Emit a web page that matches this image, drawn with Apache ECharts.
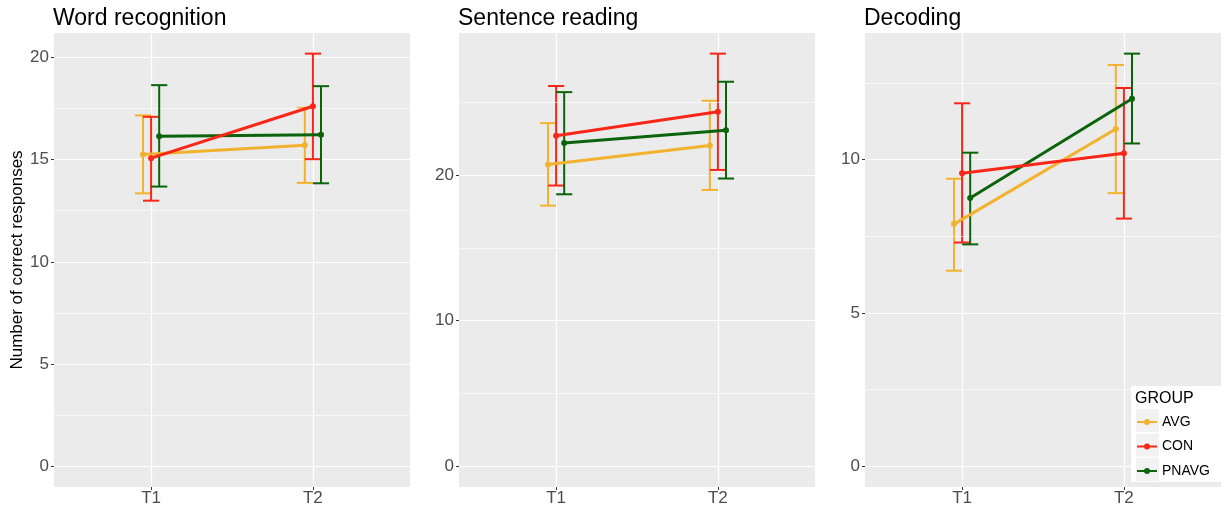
<!DOCTYPE html>
<html><head><meta charset="utf-8">
<script src="https://cdn.jsdelivr.net/npm/echarts@6/dist/echarts.min.js"></script>
<style>html,body{margin:0;padding:0;background:#fff}#c{width:1228px;height:508px}</style>
</head><body><div id="c"></div>
<script>
// ---- data ----
const panelTitles = ['Word recognition', 'Sentence reading', 'Decoding'];
const groups = ['AVG', 'CON', 'PNAVG'];
const times = ['T1', 'T2'];
const groupColors = ['#F2B22E', '#FA2618', '#0B640B'];

// rows: AVG, CON, PNAVG ; columns: T1, T2
const wordMean = [[15.25, 15.70], [15.07, 17.61], [16.14, 16.21]];
const wordLow  = [[13.35, 13.86], [12.99, 15.02], [13.68, 13.84]];
const wordHigh = [[17.16, 17.53], [17.09, 20.18], [18.64, 18.59]];

const sentMean = [[20.71, 22.02], [22.68, 24.33], [22.18, 23.07]];
const sentLow  = [[17.89, 18.97], [19.27, 20.34], [18.67, 19.75]];
const sentHigh = [[23.55, 25.09], [26.10, 28.32], [25.68, 26.39]];

const decMean = [[7.90, 11.00], [9.56, 10.21], [8.75, 11.99]];
const decLow  = [[6.38, 8.91], [7.30, 8.08], [7.24, 10.53]];
const decHigh = [[9.38, 13.09], [11.84, 12.34], [10.23, 13.46]];

const wordBreaks = [0, 5, 10, 15, 20];
const sentBreaks = [0, 10, 20];
const decBreaks = [0, 5, 10];
const timeBreaks = [1, 2];

// ---- layout ----
const panelData = [
  {mean: wordMean, low: wordLow, high: wordHigh, breaks: wordBreaks},
  {mean: sentMean, low: sentLow, high: sentHigh, breaks: sentBreaks},
  {mean: decMean, low: decLow, high: decHigh, breaks: decBreaks}
];
const gridLefts = [54, 459, 865];
const gridWidth = 356;
const dodge = [-0.05, 0, 0.05];
const capHalf = 0.05;

const grids = [], xAxes = [], yAxes = [], series = [], titles = [];

function errRender(params, api) {
  const x = api.value(0), lo = api.value(1), hi = api.value(2);
  const pT = api.coord([x, hi]), pB = api.coord([x, lo]);
  const l = api.coord([x - capHalf, hi])[0], r = api.coord([x + capHalf, hi])[0];
  const style = {stroke: api.visual('color'), lineWidth: 2};
  return {type: 'group', children: [
    {type: 'line', shape: {x1: pT[0], y1: pT[1], x2: pB[0], y2: pB[1]}, style: style},
    {type: 'line', shape: {x1: l, y1: pT[1], x2: r, y2: pT[1]}, style: style},
    {type: 'line', shape: {x1: l, y1: pB[1], x2: r, y2: pB[1]}, style: style}
  ]};
}

panelData.forEach((p, i) => {
  const allLow = [].concat(...p.low), allHigh = [].concat(...p.high);
  const lo = Math.min(0, ...allLow), hi = Math.max(...allHigh);
  const pad = (hi - lo) * 0.05;
  const step = p.breaks[1] - p.breaks[0];
  const minor = p.breaks.slice(0, -1).map((b, k) => (b + p.breaks[k + 1]) / 2)
    .concat([p.breaks[p.breaks.length - 1] + step / 2]).filter(v => v < hi + pad);
  grids.push({left: gridLefts[i], width: gridWidth, top: 33, bottom: 21, show: true,
    backgroundColor: '#EBEBEB', borderWidth: 0});
  titles.push({text: panelTitles[i], left: gridLefts[i] - 1, top: 7, padding: 0,
    textStyle: {fontSize: 23, fontWeight: 'normal', color: '#000', fontFamily: 'Liberation Sans'}});
  xAxes.push({gridIndex: i, type: 'value', min: 0.4, max: 2.6, splitNumber: 2, position: 'bottom',
    axisLine: {show: false, onZero: false},
    axisTick: {show: true, length: 3, customValues: timeBreaks, lineStyle: {color: '#333', width: 1}},
    axisLabel: {fontSize: 17, color: '#4D4D4D', margin: 3, customValues: timeBreaks,
      formatter: v => (Math.abs(v - Math.round(v)) < 1e-6 && v >= 1 && v <= 2) ? times[Math.round(v) - 1] : ''},
    splitLine: {show: true, lineStyle: {color: '#FFFFFF', width: 1.2}}
  });
  yAxes.push({gridIndex: i, type: 'value', min: lo - pad, max: hi + pad, splitNumber: i === 0 ? 4 : 3,
    axisLine: {show: false, onZero: false},
    axisTick: {show: true, length: 3, customValues: p.breaks, lineStyle: {color: '#333', width: 1}},
    axisLabel: {fontSize: 17, color: '#4D4D4D', margin: 5, customValues: p.breaks,
      formatter: v => p.breaks.some(b => Math.abs(b - v) < 1e-6) ? String(Math.round(v)) : ''},
    splitLine: {show: true, lineStyle: {color: '#FFFFFF', width: 1.2}},
    name: i === 0 ? 'Number of correct responses' : '',
    nameLocation: 'middle', nameGap: 27, nameRotate: 90,
    nameTextStyle: {fontSize: 17, color: '#000'}
  });
  // minor grid lines
  series.push({type: 'line', name: '_minor' + i, xAxisIndex: i, yAxisIndex: i, data: [], silent: true, z: 1,
    markLine: {silent: true, symbol: ['none', 'none'], label: {show: false}, animation: false,
      lineStyle: {color: '#FFFFFF', width: 0.6, type: 'solid'},
      emphasis: {disabled: true},
      data: minor.map(v => ({yAxis: v}))}});
  groups.forEach((g, gi) => {
    series.push({type: 'custom', name: g + ' sd', xAxisIndex: i, yAxisIndex: i, z: 3 + gi,
      renderItem: errRender, itemStyle: {color: groupColors[gi]}, encode: {x: 0, y: [1, 2]},
      data: times.map((t, k) => [k + 1 + dodge[gi], p.low[gi][k], p.high[gi][k]]), silent: true});
  });
  groups.forEach((g, gi) => {
    series.push({type: 'line', name: g, xAxisIndex: i, yAxisIndex: i, z: 6 + (gi === 1 ? 3 : gi),
      data: times.map((t, k) => [k + 1 + dodge[gi], p.mean[gi][k]]),
      symbol: 'circle', symbolSize: 6, showSymbol: true,
      lineStyle: {width: 3, color: groupColors[gi]}, itemStyle: {color: groupColors[gi]},
      emphasis: {disabled: true}, silent: true});
  });
});

const keyRects = groups.map((g, gi) => ({type: 'rect', z: 10,
  shape: {x: 1136, y: 409 + gi * 24.5, width: 23, height: 23}, style: {fill: '#F2F2F2'}}));

const option = {
  animation: false,
  textStyle: {fontFamily: 'Liberation Sans, Arial, sans-serif'},
  title: titles,
  grid: grids, xAxis: xAxes, yAxis: yAxes, series: series,
  legend: {data: groups, orient: 'vertical', left: 1137, top: 414, padding: 0, z: 20,
    itemWidth: 20, itemHeight: 6, itemGap: 8.5,
    icon: 'path://M0,2 L20,2 L20,4 L0,4 Z M13,3 A3,3 0 1,1 7,3 A3,3 0 1,1 13,3 Z',
    itemStyle: {borderWidth: 0},
    textStyle: {fontSize: 14, color: '#000', lineHeight: 16}},
  graphic: [
    {type: 'rect', z: 9, shape: {x: 1131, y: 386, width: 97, height: 96}, style: {fill: '#FFFFFF'}},
    {type: 'text', z: 11, x: 1135, y: 399, style: {text: 'GROUP', fontSize: 16, fill: '#000',
      fontFamily: 'Liberation Sans', verticalAlign: 'middle'}}
  ].concat(keyRects)
};
const chart = echarts.init(document.getElementById('c'), null, {renderer: 'canvas'});
chart.setOption(option);
</script></body></html>
